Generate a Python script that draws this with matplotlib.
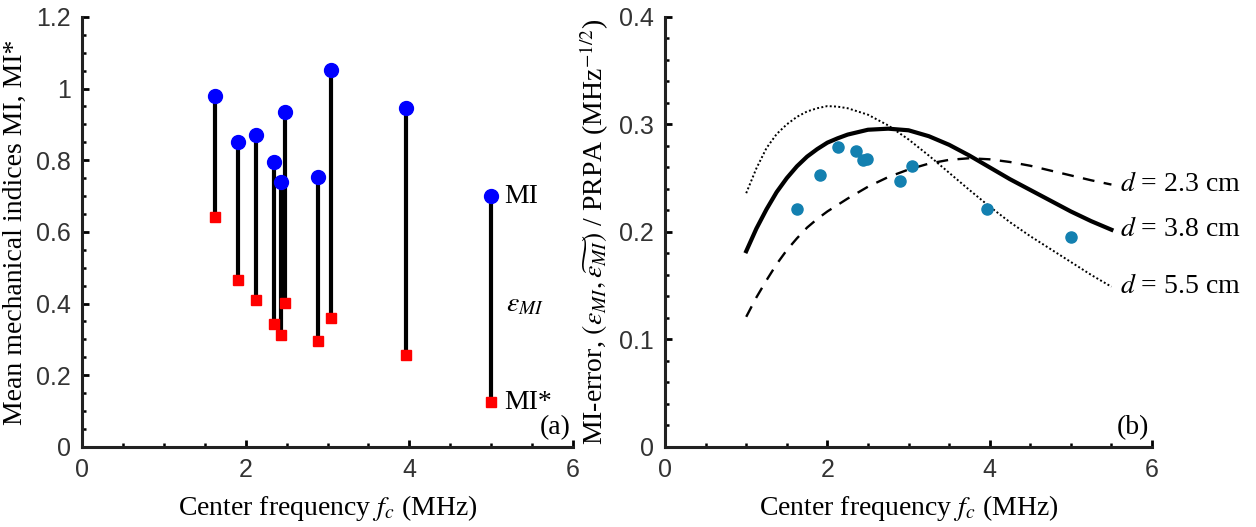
import numpy as np
import matplotlib
matplotlib.use('Agg')
import matplotlib.pyplot as plt
from matplotlib.ticker import MultipleLocator, FuncFormatter

# panel (a): measured MI and MI* per transducer
fc = [1.62, 1.91, 2.12, 2.34, 2.43, 2.48, 2.88, 3.04, 3.96, 5.0]
mi = [0.980, 0.851, 0.870, 0.795, 0.738, 0.935, 0.753, 1.052, 0.947, 0.700]
mi_star = [0.641, 0.467, 0.411, 0.343, 0.313, 0.402, 0.295, 0.359, 0.256, 0.125]

# panel (b): MI-error points
err_fc = [1.62, 1.91, 2.13, 2.35, 2.44, 2.49, 2.89, 3.04, 3.97, 5.0]
err = [0.221, 0.253, 0.279, 0.275, 0.267, 0.268, 0.247, 0.261, 0.221, 0.195]

# model curves for three depths
curve_x = [1.0, 1.125, 1.25, 1.375, 1.5, 1.625, 1.75, 1.875, 2.0, 2.125, 2.25, 2.5, 2.75,
           3.0, 3.25, 3.5, 3.75, 4.0, 4.25, 4.5, 4.75, 5.0, 5.25, 5.5]
d23 = [0.121, 0.139, 0.155, 0.170, 0.183, 0.194, 0.204, 0.212, 0.219, 0.225, 0.231, 0.242, 0.251,
       0.258, 0.2635, 0.267, 0.2685, 0.2675, 0.265, 0.2615, 0.257, 0.2525, 0.248, 0.244]
d38 = [0.182, 0.203, 0.221, 0.237, 0.250, 0.261, 0.270, 0.277, 0.283, 0.287, 0.2905, 0.295, 0.296,
       0.2945, 0.289, 0.281, 0.271, 0.260, 0.249, 0.239, 0.229, 0.219, 0.210, 0.202]
d55 = [0.236, 0.259, 0.278, 0.291, 0.300, 0.307, 0.312, 0.315, 0.317, 0.3165, 0.315, 0.309, 0.299,
       0.286, 0.271, 0.255, 0.239, 0.2235, 0.209, 0.196, 0.184, 0.172, 0.160, 0.149]

plt.rcParams['mathtext.fontset'] = 'stix'
tick_font = 'Liberation Sans'
label_font = 'Liberation Serif'

fig = plt.figure(figsize=(12.56, 5.27), dpi=100)
ax1 = fig.add_axes([0.0653, 0.152, 0.391, 0.816])
ax2 = fig.add_axes([0.5295, 0.152, 0.3877, 0.816])

fmt = FuncFormatter(lambda v, p: '%g' % round(v, 3))


def style_axes(ax, ymax, ymajor, yminor):
    ax.set_xlim(0, 6)
    ax.set_ylim(0, ymax)
    ax.xaxis.set_major_locator(MultipleLocator(2))
    ax.xaxis.set_minor_locator(MultipleLocator(0.5))
    ax.yaxis.set_major_locator(MultipleLocator(ymajor))
    ax.yaxis.set_minor_locator(MultipleLocator(yminor))
    ax.xaxis.set_major_formatter(fmt)
    ax.yaxis.set_major_formatter(fmt)
    for s in ['top', 'right']:
        ax.spines[s].set_visible(False)
    for s in ['left', 'bottom']:
        ax.spines[s].set_linewidth(2.2)
        ax.spines[s].set_color('#222222')
    ax.tick_params(which='major', direction='in', length=5, width=2, labelsize=18, pad=8)
    ax.tick_params(which='minor', direction='in', length=3, width=1.8)
    for lab in ax.get_xticklabels() + ax.get_yticklabels():
        lab.set_fontfamily(tick_font)
        lab.set_color('#333333')
    ax.set_xlabel('Center frequency $f_c$ (MHz)', fontsize=20, family=label_font, labelpad=8)


# panel (a)
ax1.vlines(fc, mi_star, mi, color='black', linewidth=3, zorder=2)
ax1.plot(fc, mi, 'o', color='#0000ff', markersize=10, zorder=3)
ax1.plot(fc, mi_star, 's', color='#ff0000', markersize=7.5, zorder=3)
ax1.text(5.16, mi[-1], 'MI', fontsize=20, family=label_font, va='center')
ax1.text(5.16, mi_star[-1], 'MI*', fontsize=20, family=label_font, va='center')
ax1.text(5.18, 0.40, r'$\varepsilon_{MI}$', fontsize=20, va='center')
ax1.text(5.97, 0.018, '(a)', fontsize=20, family=label_font, ha='right', va='bottom')
style_axes(ax1, 1.2, 0.2, 0.05)
ax1.set_ylabel('Mean mechanical indices MI, MI*', fontsize=20, family=label_font, labelpad=6)

# panel (b)
ax2.plot(curve_x, d23, '--', color='black', linewidth=1.7, dashes=(5, 4))
ax2.plot(curve_x, d38, '-', color='black', linewidth=3)
ax2.plot(curve_x, d55, color='black', linewidth=1.4, linestyle=(0, (1, 1.2)))
ax2.plot(err_fc, err, 'o', color='#1380b0', markersize=8, zorder=3)
ax2.text(5.6, d23[-1], '$d$ = 2.3 cm', fontsize=20, family=label_font, va='center')
ax2.text(5.6, d38[-1], '$d$ = 3.8 cm', fontsize=20, family=label_font, va='center')
ax2.text(5.6, d55[-1], '$d$ = 5.5 cm', fontsize=20, family=label_font, va='center')
ax2.text(5.97, 0.006, '(b)', fontsize=20, family=label_font, ha='right', va='bottom')
style_axes(ax2, 0.4, 0.1, 0.02)
ax2.set_ylabel(r'MI-error, $(\varepsilon_{MI}, \widetilde{\varepsilon_{MI}})$ / PRPA (MHz$^{-1/2}$)',
               fontsize=20, family=label_font, labelpad=6)

fig.savefig('out.png', dpi=100)
